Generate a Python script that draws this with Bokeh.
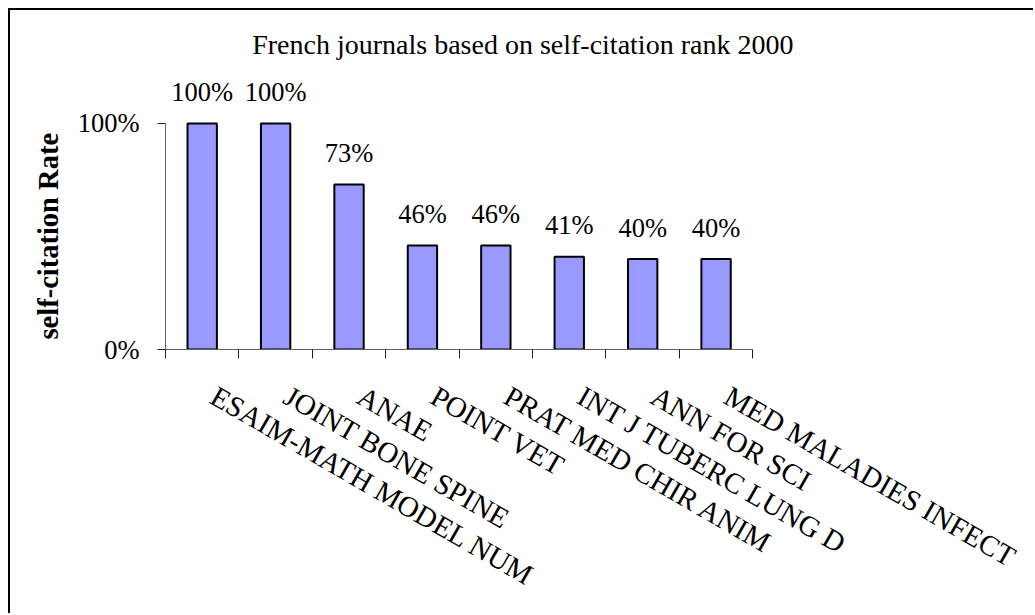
import math
from bokeh.plotting import figure
from bokeh.models import (Range1d, LinearAxis, FixedTicker, NumeralTickFormatter,
                          ColumnDataSource, LabelSet, Label, Title)
from bokeh.embed import file_html
from bokeh.resources import INLINE

# ---- data ----
journals = ["ESAIM-MATH MODEL NUM", "JOINT BONE SPINE", "ANAE", "POINT VET",
            "PRAT MED CHIR ANIM", "INT J TUBERC LUNG D", "ANN FOR SCI",
            "MED MALADIES INFECT"]
rates = [1.00, 1.00, 0.73, 0.46, 0.46, 0.41, 0.40, 0.40]
y_ticks = [0, 1]
title_text = "French journals based on self-citation rank 2000"
y_label = "self-citation Rate"

FONT = "Liberation Serif"

n = len(journals)
centers = [i + 0.5 for i in range(n)]
bounds = list(range(n + 1))
labels = [f"{round(v * 100)}%" for v in rates]

src = ColumnDataSource(dict(x=centers, top=rates, name=journals, lab=labels))

# ---- layout (canvas starts after 8px margin + 2px border) ----
W, H = 1025, 605
LEFT = 155            # frame left (y axis position)
AXIS_Y = 339.5        # x axis position from canvas top
CAT_PX = 73.41        # pixels per category
UNIT_PX = 226.4       # pixels for 100%
LABEL_SHIFT = 11 / CAT_PX   # horizontal nudge of rotated category labels
x_end = (W - LEFT) / CAT_PX
y_end = AXIS_Y / UNIT_PX

p = figure(width=W, height=H, output_backend="svg", toolbar_location=None,
           x_range=Range1d(0, x_end), y_range=Range1d(0, y_end),
           x_axis_location=None, y_axis_location=None,
           min_border_left=LEFT, min_border_right=0,
           min_border_top=0, min_border_bottom=round(H - AXIS_Y))
p.grid.visible = False
p.outline_line_color = None
p.background_fill_color = "white"
p.border_fill_color = "white"
p.styles = {"margin-left": "8px", "margin-top": "8px",
            "border-left": "2px solid #000000", "border-top": "2px solid #000000"}

# bars
p.vbar(x="x", top="top", bottom=0, width=0.4, source=src,
       fill_color="#9999FF", line_color="black", line_width=2)

# y axis
yaxis = LinearAxis(ticker=FixedTicker(ticks=y_ticks),
                   formatter=NumeralTickFormatter(format="0%"),
                   bounds=(0, 1))
yaxis.axis_line_color = "#606060"
yaxis.major_tick_line_color = "#202020"
yaxis.major_tick_out = 8
yaxis.major_tick_in = 0
yaxis.minor_tick_line_color = None
yaxis.major_label_standoff = 18
yaxis.major_label_text_font = FONT
yaxis.major_label_text_font_size = "26.5px"
yaxis.major_label_text_color = "black"
p.add_layout(yaxis, "left")

# y axis title (kept as a side title so it centres on the 0-100% span)
p.add_layout(Title(text=y_label, align="left", offset=10, standoff=22,
                   text_font=FONT, text_font_size="28.5px",
                   text_font_style="bold", text_color="black"), "left")

# x axis
label_ticks = [c + LABEL_SHIFT for c in centers]
xaxis = LinearAxis(ticker=FixedTicker(ticks=label_ticks, minor_ticks=bounds),
                   major_label_overrides={t: j for t, j in zip(label_ticks, journals)},
                   bounds=(0, n))
xaxis.axis_line_color = "#606060"
xaxis.major_tick_line_color = None
xaxis.major_tick_out = 9
xaxis.major_tick_in = 0
xaxis.minor_tick_line_color = "#202020"
xaxis.minor_tick_out = 9
xaxis.minor_tick_in = 0
xaxis.major_label_orientation = -math.pi / 6
xaxis.major_label_standoff = 35
xaxis.major_label_text_font = FONT
xaxis.major_label_text_font_size = "29px"
xaxis.major_label_text_color = "black"
p.add_layout(xaxis, "below")

# value labels
p.add_layout(LabelSet(x="x", y="top", text="lab", source=src, y_offset=22.5,
                      text_align="center", text_baseline="alphabetic",
                      text_font=FONT, text_font_size="26.5px", text_color="black"))

# title
p.add_layout(Label(x=1.181, y=1.349, text=title_text, text_align="left",
                   text_baseline="alphabetic", text_font=FONT,
                   text_font_size="28px", text_color="black"))

open("out.html", "w").write(file_html(p, INLINE))
